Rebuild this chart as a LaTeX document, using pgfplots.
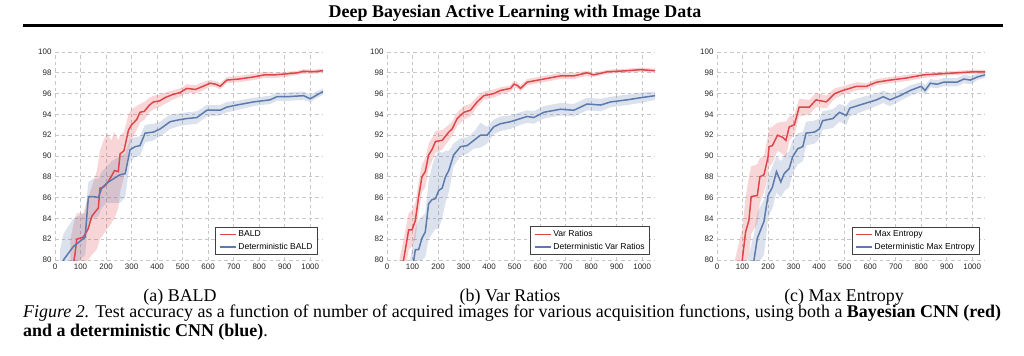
\documentclass[border=0pt]{standalone}
\usepackage{fontspec}
\setmainfont{Liberation Serif}
\setsansfont{Liberation Sans}
\usepackage{pgfplots}
\usepackage{pgfplotstable}
\pgfplotsset{compat=1.18}
\usepgfplotslibrary{fillbetween}
\definecolor{cred}{RGB}{222,70,74}
\definecolor{cblue}{RGB}{92,122,172}

\pgfplotstableread{
x y lo hi
60 78 76 82
78 80.5 78 84
85 82.0 79 84.5
111 82.2 79.5 84.5
130 83.0 80 86
144 84.2 80.5 87
163 84.8 81 88.5
170 85.0 81.5 89.5
176 86.9 82 90.5
190 87.0 82.5 91.5
205 87.4 83 92.2
220 88.0 83.5 91.5
233 88.6 84 92.3
248 88.5 85 91.5
255 90.2 86.5 92
270 90.5 88 92.3
288 92.5 90.5 94
300 93.0 91.5 94.5
320 93.5 92.5 94.8
333 94.2 93.2 95.0
350 94.3 93.5 95.2
370 94.9 94.2 95.6
386 95.2 94.5 95.8
410 95.3 94.7 95.9
430 95.6 95.0 96.1
460 95.9 95.4 96.3
490 96.1 95.7 96.5
516 96.5 96.1 96.9
550 96.4 96.0 96.8
580 96.7 96.3 97.1
608 97.0 96.7 97.3
630 96.9 96.6 97.2
647 96.7 96.4 97.0
673 97.3 97.0 97.6
720 97.4 97.1 97.7
778 97.6 97.3 97.9
820 97.8 97.5 98.1
860 97.8 97.5 98.0
908 97.9 97.6 98.1
950 98.0 97.8 98.2
974 98.15 97.9 98.35
1010 98.1 97.9 98.3
1050 98.2 98.0 98.4
}\redA
\pgfplotstableread{
x y lo hi
20 78.5 76 81
33 80 77.5 82.5
72 81.3 79 84
98 81.8 80 84.3
118 82.2 80.5 84.5
131 86.1 83.5 87.5
150 86.1 84 87.8
170 86.0 84.2 87.8
183 86.9 85 88.5
203 87.4 85.5 89
222 87.7 85.5 89.5
255 88.2 85.5 90
275 88.3 86 90.2
294 90.6 89.5 91.6
314 90.9 89.9 91.8
333 91.0 90.0 91.9
353 92.2 91.3 93
386 92.3 91.5 93.1
412 92.6 91.9 93.3
451 93.3 92.6 94
490 93.5 92.9 94.1
516 93.6 93.0 94.2
556 93.7 93.1 94.3
595 94.4 93.8 94.9
647 94.4 93.9 94.9
673 94.7 94.2 95.2
712 94.9 94.4 95.3
778 95.2 94.8 95.6
843 95.4 95.0 95.8
869 95.7 95.3 96.1
908 95.7 95.3 96.1
974 95.8 95.4 96.2
1000 95.5 95.2 95.9
1050 96.2 95.9 96.5
}\blueA
\pgfplotstableread{
x y lo hi
40 77 75 79
65 80 78 82
85 82.9 81 84.5
98 82.9 81.3 84.8
111 83.8 82 85.5
124 86.1 84.5 87.5
137 88 86.5 89.2
150 88.5 87 89.8
163 90.1 88.8 91.2
176 90.6 89.5 91.7
190 91.4 90.3 92.4
216 91.5 90.6 92.5
242 92.3 91.5 93.0
255 92.6 91.9 93.3
275 93.6 92.9 94.2
301 94.2 93.5 94.8
327 94.4 93.8 95.0
353 95.2 94.7 95.7
379 95.8 95.4 96.2
418 96.0 95.6 96.4
444 96.3 95.9 96.6
484 96.5 96.2 96.8
497 96.9 96.6 97.2
510 96.8 96.5 97.1
523 96.5 96.2 96.8
549 97.1 96.8 97.4
614 97.4 97.1 97.7
680 97.7 97.4 98.0
732 97.7 97.4 98.0
784 98.0 97.7 98.2
810 97.8 97.6 98.0
863 98.1 97.9 98.3
941 98.2 98.0 98.4
993 98.3 98.1 98.5
1050 98.2 98.0 98.4
}\redB
\pgfplotstableread{
x y lo hi
90 78 76 80
105 80 78 82
111 81 79 83
124 81 79.5 83.8
137 82.1 80 84.2
150 82.7 80.3 84.5
163 85.4 82 87.5
176 85.8 82.5 89
190 85.9 83 90
203 86.7 83 90.5
216 86.9 84 90.3
229 88 85.5 90.5
242 88.6 86.5 90.5
261 90.1 89 91.2
288 90.9 90 91.7
314 91.0 90.2 91.8
340 91.5 90.7 92.3
366 92.0 90.8 93.2
392 92.0 91.2 92.8
418 92.8 92.1 93.5
444 93.1 92.4 93.8
484 93.3 92.6 93.9
523 93.6 93.0 94.2
549 93.8 93.2 94.4
575 93.7 93.1 94.3
614 94.2 93.6 94.8
680 94.5 93.9 95.1
732 94.4 93.8 95.0
784 95.0 94.4 95.6
837 94.9 94.3 95.5
876 95.2 94.7 95.7
941 95.4 94.9 95.9
993 95.6 95.1 96.1
1050 95.8 95.4 96.2
}\blueB
\pgfplotstableread{
x y lo hi
70 77 75 80
99 80 77.5 83
112 82.7 79.5 86
125 83.8 80.5 88
134 86.1 82.5 89
158 86.2 83.5 89.2
168 88.0 85.5 89.8
184 88.2 86.5 90
200 89.9 88 92
204 90.9 89 92.7
217 91.0 89.3 92.8
237 92.0 90.5 93.2
257 91.8 90.2 93.3
270 91.5 89.8 93.3
283 92.8 91.5 93.8
303 93.0 92 94
322 94.7 93.8 95.5
362 94.7 94 95.4
388 95.4 94.7 96.1
428 95.2 94.6 95.8
461 96.0 95.5 96.5
493 96.3 95.9 96.7
520 96.5 96.1 96.9
546 96.7 96.3 97.1
586 96.7 96.4 97.0
625 97.1 96.8 97.4
678 97.3 97.0 97.6
743 97.5 97.2 97.8
809 97.8 97.5 98.0
875 97.9 97.7 98.1
941 98.0 97.8 98.2
1007 98.1 97.9 98.3
1050 98.1 97.9 98.3
}\redC
\pgfplotstableread{
x y lo hi
120 77 75 80
145 80 77.5 82.5
158 82.1 79.5 84.5
171 82.9 80 85.2
184 83.7 80.5 85.8
200 86.2 84 88
217 87.0 85 89
233 88.5 86.5 90
250 87.5 86 89.5
263 88.3 86.6 90
283 88.8 87 90.5
296 89.9 88.3 91.5
316 90.7 89.2 92.2
336 90.9 89.5 92.3
349 92.2 91 93.3
382 92.3 91.2 93.4
401 92.6 91.6 93.6
414 93.4 92.5 94.3
454 93.6 92.7 94.5
480 94.2 93.3 95
507 93.9 93 94.8
520 94.6 93.8 95.3
572 95.0 94.3 95.7
625 95.4 94.8 96
651 95.7 95.1 96.3
678 95.4 94.8 96
717 95.8 95.3 96.3
757 96.3 95.8 96.8
800 96.7 96.2 97.1
815 96.3 95.9 96.8
836 97.0 96.6 97.4
862 96.9 96.5 97.3
888 97.1 96.7 97.5
941 97.1 96.7 97.5
967 97.4 97.0 97.8
993 97.3 96.9 97.7
1020 97.6 97.3 97.9
1050 97.8 97.5 98.1
}\blueC

\pgfplotsset{
  myax/.style={
    anchor=south west,
    scale only axis, width=268bp, height=208bp,
    xmin=0, xmax=1050, ymin=80, ymax=100,
    xtick={0,100,...,1000}, ytick={80,82,...,100},
    grid=major,
    major grid style={draw=black!22, line width=0.7bp, dash pattern=on 3.5bp off 3bp},
    axis line style={draw=none},
    major tick length=0pt,
    tick label style={font=\sffamily\fontsize{8}{9}\selectfont, text=black!85},
    /pgf/number format/assume math mode=true,
    /pgf/number format/1000 sep={},
    legend cell align=left,
    legend style={at={(1,0)}, anchor=south east, xshift=-5bp, yshift=5bp,
      draw=black!75, line width=0.8bp, fill=white,
      font=\sffamily\fontsize{8.6}{10}\selectfont,
      inner xsep=3bp, inner ysep=2bp, row sep=0.5bp,
      /tikz/every even column/.append style={column sep=4bp}},
    legend image code/.code={\draw[#1, line width=1.5bp] (0bp,0bp) -- (16bp,0bp);},
  },
}

\newcommand{\band}[3]{%
  \addplot[name path=#2hi, draw=none, forget plot] table[x=x,y=hi]{#1};
  \addplot[name path=#2lo, draw=none, forget plot] table[x=x,y=lo]{#1};
  \addplot[fill=#3, fill opacity=0.22, draw=none, forget plot] fill between[of=#2hi and #2lo];
}

\begin{document}
\begin{tikzpicture}
\path (0,0) rectangle (1024bp,-356bp);
\node[anchor=base, inner sep=0] at (515bp,-17bp) {\fontsize{18}{20}\selectfont\bfseries Deep Bayesian Active Learning with Image Data};
\draw[line width=2.4bp] (23bp,-25.5bp) -- (1003bp,-25.5bp);

% (a)
\begin{axis}[myax, at={(55bp,-260bp)}]
\band{\redA}{ra}{cred}
\band{\blueA}{ba}{cblue}
\addplot[cred, line width=1.5bp] table[x=x,y=y]{\redA};
\addlegendentry{BALD}
\addplot[cblue, line width=1.5bp] table[x=x,y=y]{\blueA};
\addlegendentry{Deterministic BALD}
\end{axis}

% (b)
\begin{axis}[myax, at={(387bp,-260bp)}]
\band{\redB}{rb}{cred}
\band{\blueB}{bb}{cblue}
\addplot[cred, line width=1.5bp] table[x=x,y=y]{\redB};
\addlegendentry{Var Ratios}
\addplot[cblue, line width=1.5bp] table[x=x,y=y]{\blueB};
\addlegendentry{Deterministic Var Ratios}
\end{axis}

% (c)
\begin{axis}[myax, at={(717bp,-260bp)}]
\band{\redC}{rc}{cred}
\band{\blueC}{bc}{cblue}
\addplot[cred, line width=1.5bp] table[x=x,y=y]{\redC};
\addlegendentry{Max Entropy}
\addplot[cblue, line width=1.5bp] table[x=x,y=y]{\blueC};
\addlegendentry{Deterministic Max Entropy}
\end{axis}

\node[anchor=base, inner sep=0] at (180bp,-301bp) {\fontsize{18}{20}\selectfont (a) BALD};
\node[anchor=base, inner sep=0] at (510bp,-301bp) {\fontsize{18}{20}\selectfont (b) Var Ratios};
\node[anchor=base, inner sep=0] at (844bp,-301bp) {\fontsize{18}{20}\selectfont (c) Max Entropy};

\node[anchor=base west, inner sep=0] at (23bp,-317bp) {\fontsize{18}{20}\selectfont \textit{Figure 2.} Test accuracy as a function of number of acquired images for various acquisition functions, using both a \textbf{Bayesian CNN (red)}};
\node[anchor=base west, inner sep=0] at (23bp,-336bp) {\fontsize{18}{20}\selectfont \textbf{and a deterministic CNN (blue)}.};
\end{tikzpicture}
\end{document}
